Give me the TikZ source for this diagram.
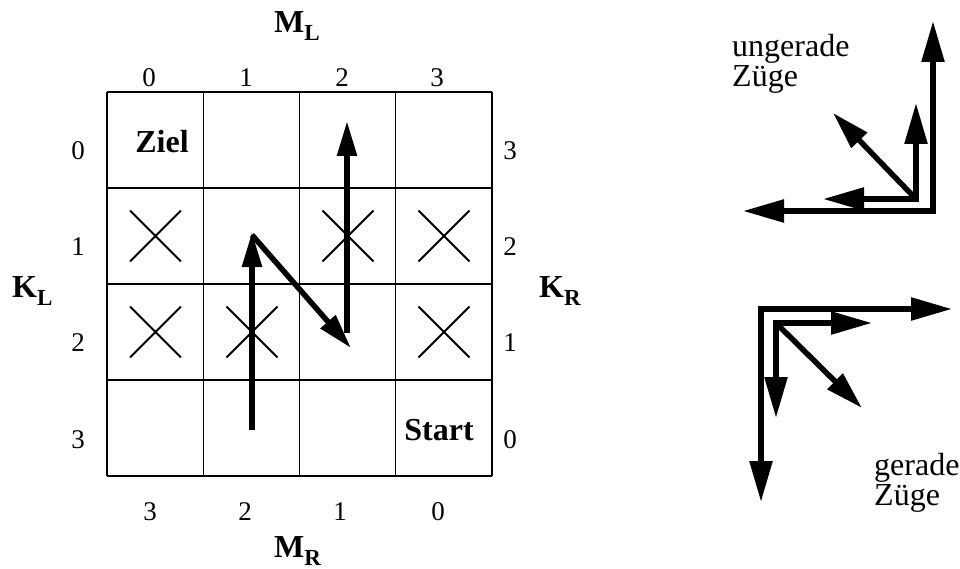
\documentclass[tikz,border=0pt]{standalone}
\usepackage{fontspec}
\setmainfont{Liberation Serif}
\usetikzlibrary{arrows.meta,shapes.misc}
\tikzset{
  digit/.style={anchor=base,inner sep=0pt,font=\fontsize{27}{27}\selectfont},
  lbl/.style={anchor=base west,inner sep=0pt,font=\fontsize{32}{32}\selectfont\bfseries},
  cell/.style={anchor=base,inner sep=0pt,font=\fontsize{32}{32}\selectfont\bfseries},
  txt/.style={anchor=base west,inner sep=0pt,font=\fontsize{32}{32}\selectfont},
  grid line/.style={line width=1.2pt},
  xmark/.style={cross out,draw,line width=1.8pt,minimum size=49pt,inner sep=0pt},
  mv/.style={line width=5.5pt,-{Triangle[length=35pt,width=19pt]}},
  dir/.style={line width=5.5pt,line join=miter,{Triangle[length=41pt,width=22pt]}-{Triangle[length=41pt,width=22pt]}},
  dirone/.style={line width=5.5pt,-{Triangle[length=38pt,width=21pt]}}
}
\newcommand{\subl}[2]{#1\raisebox{-8pt}{\fontsize{23}{23}\selectfont\bfseries #2}}
\begin{document}
\begin{tikzpicture}[x=1pt,y=-1pt]
\useasboundingbox (0,0) rectangle (960,569);
% grid
\foreach \i in {0,1,2,3,4}{
  \draw[grid line] ({107+96.25*\i},92) -- ({107+96.25*\i},476);
  \draw[grid line] (107,{92+96*\i}) -- (492,{92+96*\i});
}
% axis labels
\node[lbl] (ML) at (274,33) {\subl{M}{L}};
\node[lbl] (MR) at (274,557) {\subl{M}{R}};
\node[lbl] (KL) at (12,297) {\subl{K}{L}};
\node[lbl] (KR) at (539,297) {\subl{K}{R}};
% top digits
\node[digit] (t0) at (149,87) {0};
\node[digit] (t1) at (246,87) {1};
\node[digit] (t2) at (342,87) {2};
\node[digit] (t3) at (437,87) {3};
% bottom digits
\node[digit] (b3) at (150,520) {3};
\node[digit] (b2) at (245,520) {2};
\node[digit] (b1) at (340,520) {1};
\node[digit] (b0) at (438,520) {0};
% left digits
\node[digit] (l0) at (78,160) {0};
\node[digit] (l1) at (78,255) {1};
\node[digit] (l2) at (78,351) {2};
\node[digit] (l3) at (78,448) {3};
% right digits
\node[digit] (r3) at (510,160) {3};
\node[digit] (r2) at (510,255) {2};
\node[digit] (r1) at (510,351) {1};
\node[digit] (r0) at (510,448) {0};
% cell texts
\node[cell] (ziel) at (162,153) {Ziel};
\node[cell] (start) at (439,440) {Start};
% crosses
\node[xmark] (x10) at (155.5,236) {};
\node[xmark] (x12) at (348,236) {};
\node[xmark] (x13) at (444,236) {};
\node[xmark] (x20) at (155.5,332) {};
\node[xmark] (x21) at (252,332) {};
\node[xmark] (x23) at (444,332) {};
% moves
\coordinate (p0) at (252,430);
\coordinate (p1) at (252,232);
\coordinate (p1b) at (252,235);
\coordinate (p2) at (351,348);
\coordinate (p2b) at (347,333);
\coordinate (p3) at (347,121);
\draw[mv] (p0) -- (p1);
\draw[mv] (p1b) -- (p2);
\draw[mv] (p2b) -- (p3);
% odd moves
\node[txt] (ung1) at (732,57) {ungerade};
\node[txt] (ung2) at (732,87) {Züge};
\coordinate (oa) at (743,211);
\coordinate (oc) at (933,211);
\coordinate (ob) at (933,21);
\coordinate (od) at (823,199);
\coordinate (oe) at (916,199);
\coordinate (of) at (916,103);
\coordinate (og) at (914,197);
\coordinate (oh) at (833,113);
\draw[dir] (oa) -- (oc) -- (ob);
\draw[dir] (od) -- (oe) -- (of);
\draw[dirone] (og) -- (oh);
% even moves
\node[txt] (ger1) at (874,475) {gerade};
\node[txt] (ger2) at (874,505) {Züge};
\coordinate (ea) at (952,309);
\coordinate (ec) at (761,309);
\coordinate (eb) at (761,502);
\coordinate (ed) at (872,323);
\coordinate (ee) at (776,323);
\coordinate (ef) at (776,418);
\coordinate (eg) at (778,325);
\coordinate (eh) at (862,408);
\draw[dir] (ea) -- (ec) -- (eb);
\draw[dir] (ed) -- (ee) -- (ef);
\draw[dirone] (eg) -- (eh);
\end{tikzpicture}
\end{document}
